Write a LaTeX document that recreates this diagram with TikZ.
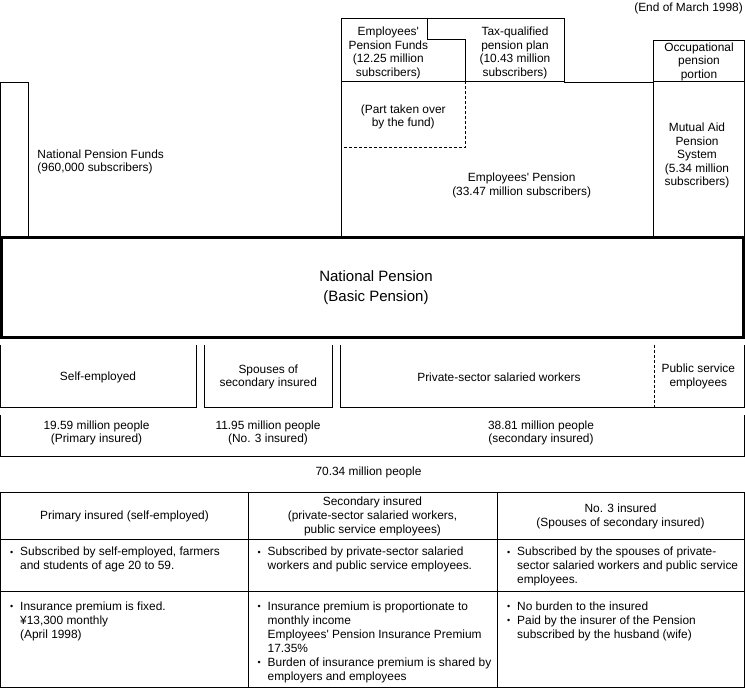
\documentclass[tikz,border=0pt]{standalone}
\usepackage{fontspec}
\newfontfamily\arialf{Liberation Sans}
\newcommand\tbul{\makebox[10pt][l]{\raisebox{0.8pt}{\fontsize{9}{9}\selectfont •}}}
\newcommand\tind{\hspace*{10pt}}
\tikzset{
  ln/.style={line width=1pt},
  thk/.style={line width=3pt},
  dsh/.style={line width=1pt, dash pattern=on 3pt off 2pt},
  lbl/.style={align=center, inner sep=0pt, font=\arialf\fontsize{11.9}{13.5}\selectfont},
  big/.style={align=center, inner sep=0pt, font=\arialf\fontsize{15}{20}\selectfont},
  cell/.style={align=left, anchor=north west, inner sep=0pt, font=\arialf\fontsize{11.9}{14}\selectfont},
  hdr/.style={align=center, inner sep=0pt, font=\arialf\fontsize{11.9}{14}\selectfont},
}
\begin{document}
\begin{tikzpicture}[x=1pt,y=-1pt]
\useasboundingbox (0,0) rectangle (745,688);
\fill[white] (0,0) rectangle (745,688);

% ---------- upper part ----------
\node[lbl, anchor=east] (date) at (743,8) {(End of March 1998)};

% National Pension Funds narrow box
\draw[ln] (0.5,237) -- (0.5,82) -- (28.7,82) -- (28.7,237);
\node[lbl, anchor=west, align=left] (npf) at (37.3,162) {National Pension Funds\\(960,000 subscribers)};

% Employees' Pension Funds / Tax-qualified
\draw[ln] (341,237) -- (341,18.3) -- (427.7,18.3) -- (427.7,39.3) -- (465.7,39.3) -- (465.7,81.3);
\draw[ln] (427.7,18.3) -- (564.3,18.3) -- (564.3,82);
\draw[ln] (341,81.3) -- (564.3,81.3);
\draw[ln] (564.3,82) -- (653.3,82);
\draw[dsh] (465.7,81.3) -- (465.7,147.7) -- (341,147.7);

% Occupational / Mutual aid
\draw[ln] (653.3,237) -- (653.3,40) -- (744,40) -- (744,237);
\draw[ln] (653.3,81.3) -- (744,81.3);

\node[lbl] (epf) at (388.3,53) {Employees'\\Pension Funds\\(12.25 million\\subscribers)};
\node[lbl] (tqp) at (515,53) {Tax-qualified\\pension plan\\(10.43 million\\subscribers)};
\node[lbl] (occ) at (699,61.7) {Occupational\\pension\\portion};
\node[lbl] (part) at (403.3,117) {(Part taken over\\by the fund)};
\node[lbl] (mut) at (697,155.5) {Mutual Aid\\Pension\\System\\(5.34 million\\subscribers)};
\node[lbl] (ep) at (521.7,185.5) {Employees' Pension\\(33.47 million subscribers)};

% National pension thick box
\draw[thk] (1.5,237) rectangle (743.5,337);
\node[big] (np) at (376,288) {National Pension\\(Basic Pension)};

% ---------- category boxes ----------
\draw[ln] (0.5,345) -- (0.5,407) -- (196,407) -- (196,345);
\draw[ln] (204.3,345) -- (204.3,407) -- (332.7,407) -- (332.7,345);
\draw[ln] (340.7,345) -- (340.7,407) -- (744,407) -- (744,345);
\draw[dsh] (654,345) -- (654,407);

\node[lbl] (self) at (98,377) {Self-employed};
\node[lbl] (spo) at (268.3,377) {Spouses of\\secondary insured};
\node[lbl] (priv) at (499,377) {Private-sector salaried workers};
\node[lbl] (pub) at (698.3,376.5) {Public service\\employees};

% numbers row
\draw[ln] (0.5,415) -- (0.5,456) -- (744,456) -- (744,415);
\node[lbl] (n1) at (96.5,433) {19.59 million people\\(Primary insured)};
\node[lbl] (n2) at (268,433) {11.95 million people\\(No. 3 insured)};
\node[lbl] (n3) at (541,433) {38.81 million people\\(secondary insured)};
\node[lbl] (tot) at (368.5,472) {70.34 million people};

% ---------- table ----------
\draw[ln] (0.5,492) rectangle (744,687);
\draw[ln] (248,492) -- (248,687);
\draw[ln] (497,492) -- (497,687);
\draw[ln] (0.5,539) -- (744,539);
\draw[ln] (0.5,591) -- (744,591);

\node[hdr] (h1) at (124.5,516) {Primary insured (self-employed)};
\node[hdr] (h2) at (372.5,516) {Secondary insured\\(private-sector salaried workers,\\public service employees)};
\node[hdr] (h3) at (620.5,516) {No. 3 insured\\(Spouses of secondary insured)};

\node[cell] (c21) at (10,547) {\tbul Subscribed by self-employed, farmers\\\tind and students of age 20 to 59.};
\node[cell] (c22) at (257.5,547) {\tbul Subscribed by private-sector salaried\\\tind workers and public service employees.};
\node[cell] (c23) at (507,547) {\tbul Subscribed by the spouses of private-\\\tind sector salaried workers and public service\\\tind employees.};

\node[cell] (c31) at (10,601.5) {\tbul Insurance premium is fixed.\\\tind ¥13,300 monthly\\\tind (April 1998)};
\node[cell] (c32) at (257.5,601.5) {\tbul Insurance premium is proportionate to\\\tind monthly income\\\tind Employees' Pension Insurance Premium\\\tind 17.35\%\\\tbul Burden of insurance premium is shared by\\\tind employers and employees};
\node[cell] (c33) at (507,601.5) {\tbul No burden to the insured\\\tbul Paid by the insurer of the Pension\\\tind subscribed by the husband (wife)};
\end{tikzpicture}
\end{document}
